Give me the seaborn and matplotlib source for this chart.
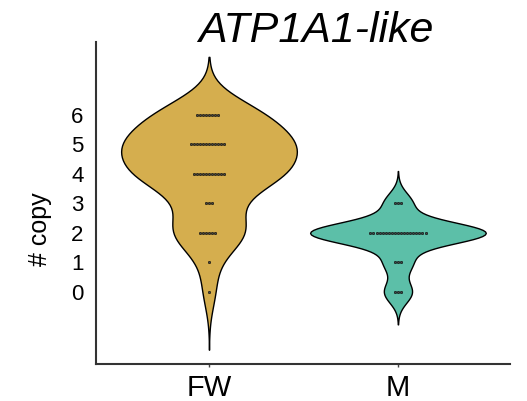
import numpy as np
import pandas as pd
import matplotlib
matplotlib.use("Agg")
import matplotlib.pyplot as plt
import seaborn as sns

# Data: copy-number counts per group
groups = ["FW", "M"]
copy_values = [0, 1, 2, 3, 4, 5, 6]
fw_counts = [1, 1, 6, 3, 11, 12, 8]
m_counts = [3, 3, 19, 3, 0, 0, 0]
colors = {"FW": "#D5AE4E", "M": "#5CBFA8"}
yticks = [0, 1, 2, 3, 4, 5, 6]

rows = []
for g, counts in zip(groups, [fw_counts, m_counts]):
    for v, c in zip(copy_values, counts):
        rows += [(g, v)] * c
df = pd.DataFrame(rows, columns=["group", "copy"])

sns.set_style("white")
plt.rcParams["font.family"] = ["Liberation Sans", "DejaVu Sans"]
plt.rcParams["text.color"] = "black"
plt.rcParams["axes.labelcolor"] = "black"
plt.rcParams["xtick.color"] = "black"
plt.rcParams["ytick.color"] = "black"

fig = plt.figure(figsize=(5.27, 4.01), dpi=100)
ax = fig.add_axes([96 / 527, 1 - 364 / 401, (510 - 96) / 527, (364 - 42) / 401])

sns.violinplot(data=df, x="group", y="copy", hue="group", palette=colors,
               order=groups, inner=None, density_norm="width", width=0.93,
               cut=3, bw_adjust=0.9, linewidth=1.0, linecolor="black",
               saturation=1, legend=False, ax=ax)
sns.swarmplot(data=df, x="group", y="copy", order=groups, color="#4a4a4a",
              size=1.7, edgecolor="black", linewidth=0.4, ax=ax)

ax.set_xlim(-0.598, 1.593)
ax.set_ylim(-2.43, 8.45)
ax.set_yticks(yticks)
ax.set_yticklabels([str(t) for t in yticks])
ax.tick_params(axis="y", length=0, pad=9, labelsize=16, labelcolor="black")
ax.tick_params(axis="x", length=2, width=1, color="#444444", pad=5,
               labelsize=21, labelcolor="black", bottom=True)
ax.set_xlabel("")
ax.set_ylabel("# copy", fontsize=18, color="black")
ax.yaxis.set_label_coords(-0.106, 0.42)

for s in ["top", "right"]:
    ax.spines[s].set_visible(False)
for s in ["left", "bottom"]:
    ax.spines[s].set_color("#333333")
    ax.spines[s].set_linewidth(1.5)

ax.set_title("ATP1A1-like", fontsize=31, style="italic", x=0.531, pad=0,
             color="black")

fig.savefig("out.png", dpi=100)
